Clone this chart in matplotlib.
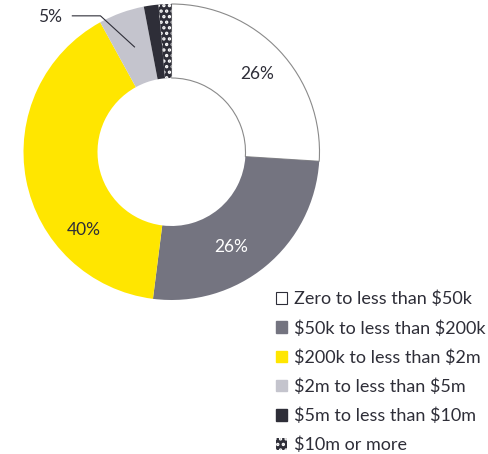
import matplotlib.pyplot as plt
from matplotlib.patches import Patch

plt.rcParams['font.family'] = ['Lato', 'DejaVu Sans']
plt.rcParams['text.parse_math'] = False
plt.rcParams['hatch.linewidth'] = 1.6

# 数据
categories = ['Zero to less than $50k', '$50k to less than $200k', '$200k to less than $2m',
              '$2m to less than $5m', '$5m to less than $10m', '$10m or more']
shares = [26, 26, 40, 5, 1.6, 1.4]
pct_labels = ['26%', '26%', '40%', '5%', '', '']
colors = ['#FFFFFF', '#747480', '#FFE600', '#C4C4CD', '#2E2E38', '#2E2E38']

fig = plt.figure(figsize=(4.88, 4.54), dpi=100)
ax = fig.add_axes([23.5 / 488, 1 - 300 / 454, 296 / 488, 296 / 454])

wedges, _ = ax.pie(shares, colors=colors, startangle=90, counterclock=False,
                   radius=1, wedgeprops=dict(width=0.5, linewidth=0))
wedges[0].set_edgecolor('#8a8a8a')
wedges[0].set_linewidth(0.8)
wedges[5].set_hatch('...')
wedges[5].set_edgecolor('white')
ax.set_xlim(-1, 1)
ax.set_ylim(-1, 1)

# 百分比标签
fs = 12.5
ax.text(0.58, 0.53, pct_labels[0], ha='center', va='center', fontsize=fs, color='#2E2E38')
ax.text(0.40, -0.64, pct_labels[1], ha='center', va='center', fontsize=fs, color='white')
ax.text(-0.59, -0.53, pct_labels[2], ha='center', va='center', fontsize=fs, color='#2E2E38')
ax.text(-0.82, 0.91, pct_labels[3], ha='center', va='center', fontsize=fs, color='#2E2E38')
ax.plot([-0.67, -0.48, -0.25], [0.92, 0.92, 0.71], color='#2E2E38', lw=0.8)

# 图例
handles = []
for i, c in enumerate(colors):
    if i == 0:
        handles.append(Patch(facecolor='white', edgecolor='#2E2E38', linewidth=0.8))
    elif i == 5:
        handles.append(Patch(facecolor='#2E2E38', edgecolor='white', hatch='...', linewidth=0))
    else:
        handles.append(Patch(facecolor=c, edgecolor=c))
fig.legend(handles, categories, loc='upper left', bbox_to_anchor=(276 / 488, 1 - 291 / 454),
           frameon=False, fontsize=13, handlelength=0.62, handleheight=0.62,
           handletextpad=0.35, labelspacing=0.70, borderpad=0, borderaxespad=0,
           labelcolor='#2E2E38')

plt.savefig('out.png', dpi=100)
